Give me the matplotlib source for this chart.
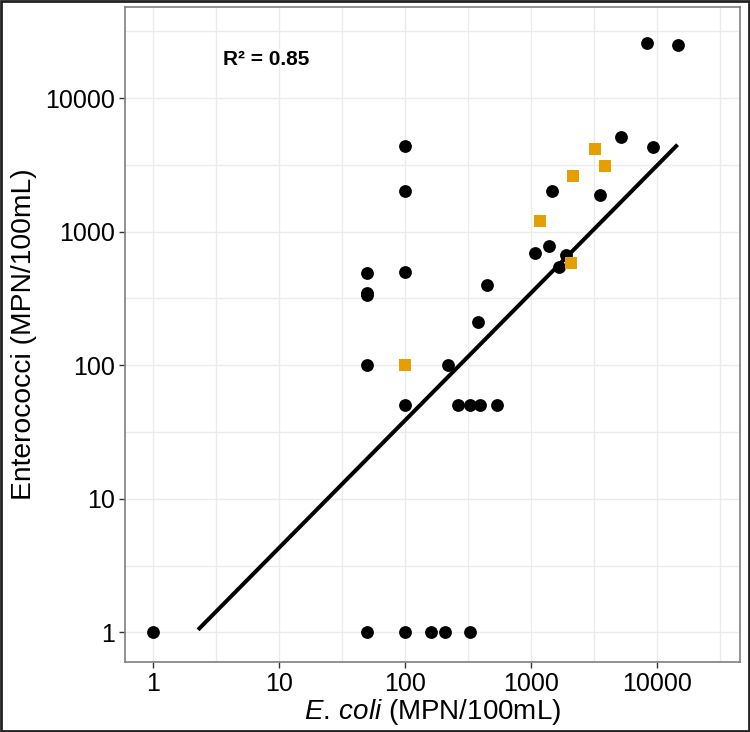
import numpy as np
import matplotlib
matplotlib.use("Agg")
import matplotlib.pyplot as plt
from matplotlib.ticker import FixedLocator, FuncFormatter, NullFormatter
from matplotlib.patches import Rectangle

plt.rcParams["font.family"] = ["Liberation Sans", "DejaVu Sans"]
plt.rcParams["mathtext.fontset"] = "custom"
plt.rcParams["mathtext.rm"] = "Liberation Sans"
plt.rcParams["mathtext.it"] = "Liberation Sans:italic"

# Samples (E. coli vs Enterococci, MPN/100mL)
circle_ecoli = [1, 50, 100, 160, 210, 330,
                50, 50, 50, 50, 100, 100, 100, 100,
                218, 384, 262, 331, 398, 537,
                447, 1076, 1390, 1487, 1888, 1671, 3522, 5188, 9290, 8370, 14700]
circle_entero = [1, 1, 1, 1, 1, 1,
                 490, 350, 335, 100, 500, 50, 4400, 2000,
                 100, 210, 50, 50, 50, 50,
                 400, 690, 780, 2000, 670, 545, 1880, 5080, 4320, 25900, 24800]

square_ecoli = [100, 1185, 2070, 2163, 3238, 3918]
square_entero = [100, 1205, 578, 2590, 4170, 3100]

# Fitted line on log-log scale
fit_slope = 0.953
fit_intercept = -0.32
fit_range = [2.33, 14300]
r2_text = "R² = 0.85"

fig = plt.figure(figsize=(7.5, 7.32), dpi=100)
ax = fig.add_axes([0.1667, 0.0956, 0.82, 0.8948])

fit_x = np.logspace(np.log10(fit_range[0]), np.log10(fit_range[1]), 50)
fit_y = 10 ** (fit_intercept + fit_slope * np.log10(fit_x))
ax.plot(fit_x, fit_y, color="black", lw=2.9, zorder=3)

ax.scatter(circle_ecoli, circle_entero, s=85, color="black", marker="o",
           linewidths=0, zorder=4)
ax.scatter(square_ecoli, square_entero, s=75, color="#E69F00", marker="s",
           linewidths=0, zorder=4)

ax.set_xscale("log")
ax.set_yscale("log")
ax.set_xlim(0.597, 46000)
ax.set_ylim(0.6, 48000)

majors = [1, 10, 100, 1000, 10000]
minors = list(10 ** (np.arange(-0.5, 5.0, 1.0)))
for axis in (ax.xaxis, ax.yaxis):
    axis.set_major_locator(FixedLocator(majors))
    axis.set_minor_locator(FixedLocator(minors))
    axis.set_major_formatter(FuncFormatter(lambda v, p: f"{int(round(v))}"))
    axis.set_minor_formatter(NullFormatter())

ax.grid(True, which="both", color="#EBEBEB", lw=1.0)
ax.set_axisbelow(True)
ax.tick_params(which="major", length=4, width=1, color="#333333",
               labelsize=18, labelcolor="black", pad=3)
ax.tick_params(which="minor", length=0)
for sp in ax.spines.values():
    sp.set_color("#7F7F7F")
    sp.set_linewidth(1.2)

ax.set_xlabel(r"$\it{E.\,coli}$ (MPN/100mL)", fontsize=20, labelpad=1)
ax.set_ylabel("Enterococci (MPN/100mL)", fontsize=20.3, labelpad=6)

ax.text(3.56, 19300, r2_text, fontsize=15, fontweight="bold",
        ha="left", va="center")

fig.patches.append(Rectangle((0.0013, 0.0014), 0.9974, 0.9972,
                             transform=fig.transFigure, fill=False,
                             edgecolor="#222222", lw=2))

fig.savefig("out.png", dpi=100)
